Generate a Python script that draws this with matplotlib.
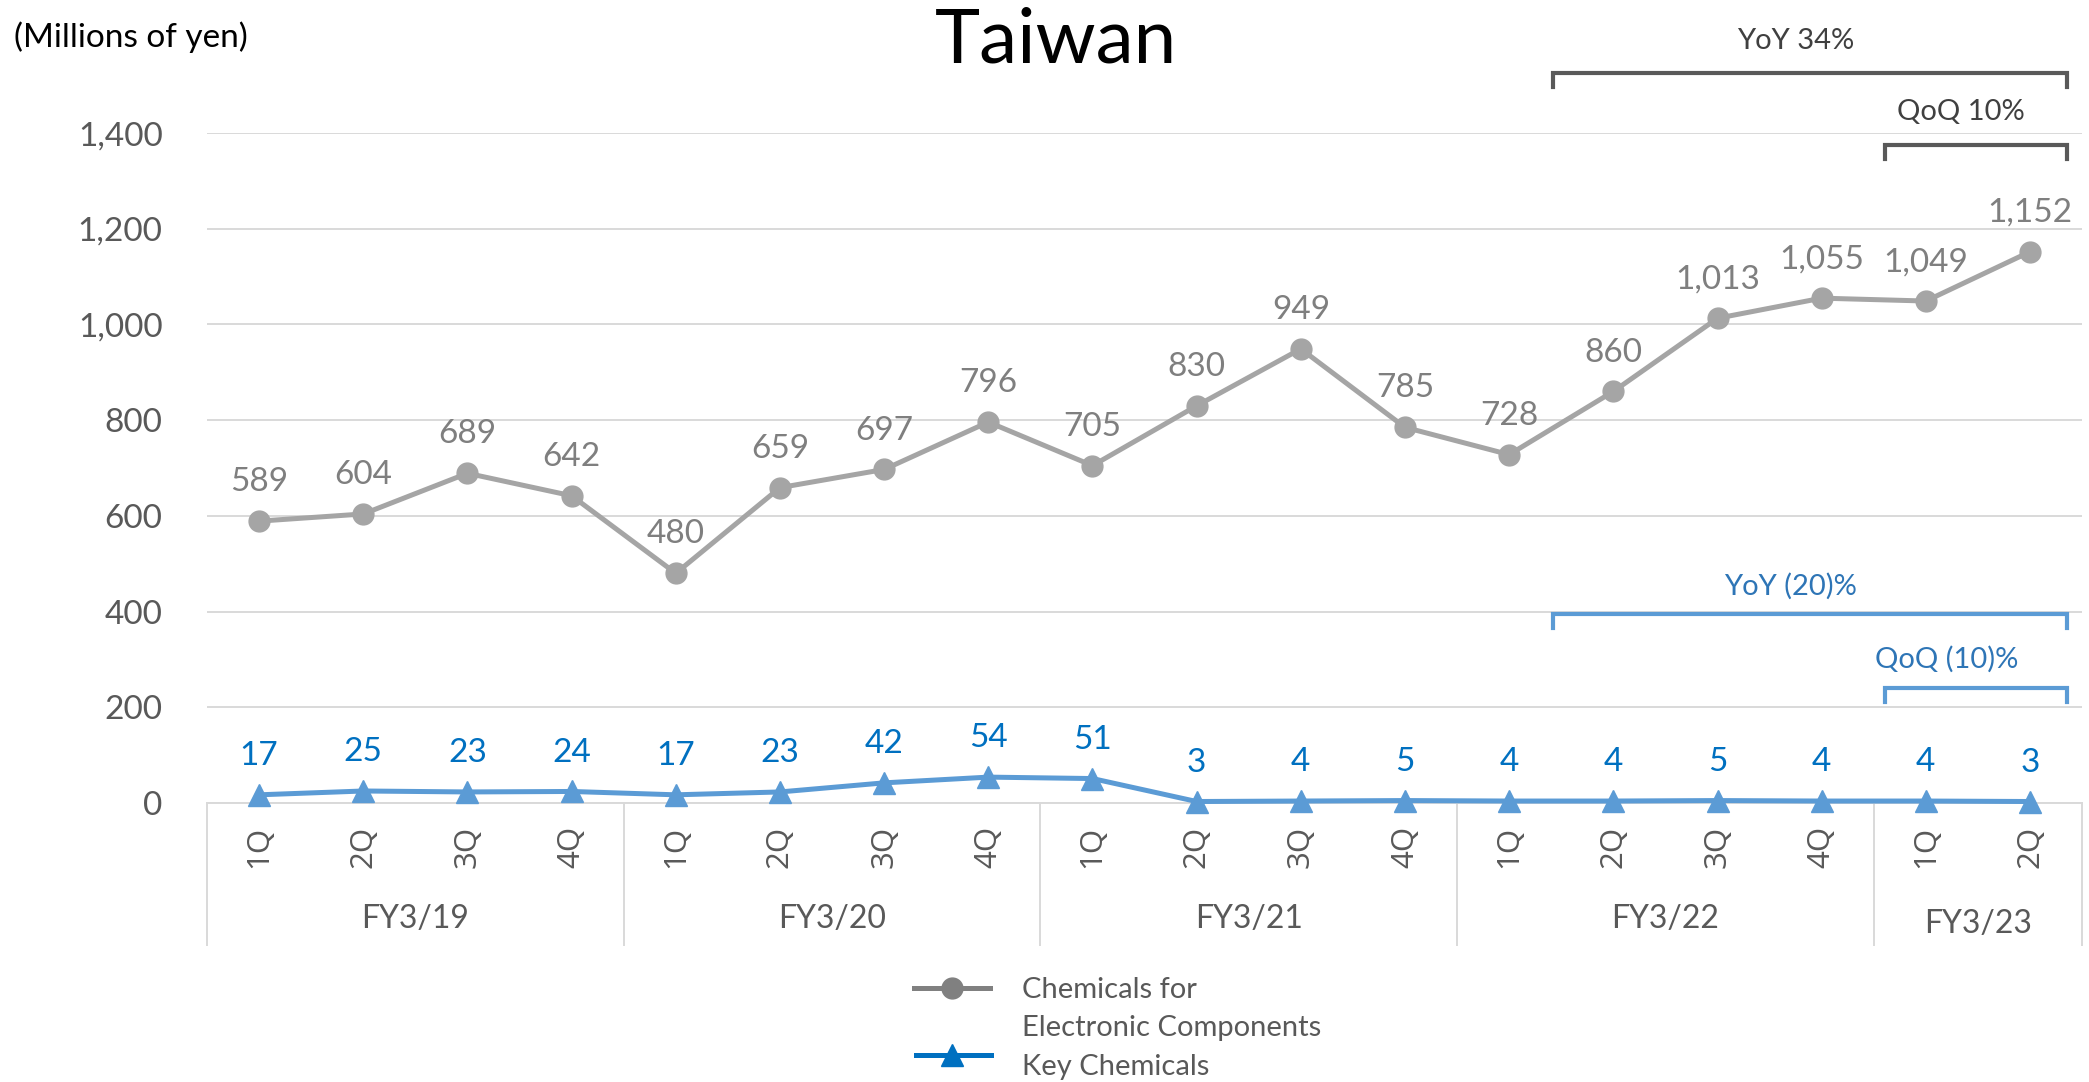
import matplotlib
matplotlib.use("Agg")
import matplotlib.pyplot as plt
from matplotlib.lines import Line2D
from matplotlib.transforms import blended_transform_factory

plt.rcParams['font.family'] = ['Lato', 'DejaVu Sans']

# ---- data ----
quarters = ["1Q", "2Q", "3Q", "4Q"] * 4 + ["1Q", "2Q"]
fiscal_years = ["FY3/19", "FY3/20", "FY3/21", "FY3/22", "FY3/23"]
fy_quarter_counts = [4, 4, 4, 4, 2]
electronic = [589, 604, 689, 642, 480, 659, 697, 796, 705, 830,
              949, 785, 728, 860, 1013, 1055, 1049, 1152]
key_chem = [17, 25, 23, 24, 17, 23, 42, 54, 51, 3,
            4, 5, 4, 4, 5, 4, 4, 3]
yticks = [0, 200, 400, 600, 800, 1000, 1200, 1400]
elec_yoy_text = "YoY 34%"
elec_qoq_text = "QoQ 10%"
key_yoy_text = "YoY (20)%"
key_qoq_text = "QoQ (10)%"
legend_labels = ["Chemicals for\nElectronic Components", "Key Chemicals"]

GREY_LINE = "#A5A5A5"
GREY_LABEL = "#7F7F7F"
BLUE_LINE = "#5B9BD5"
BLUE_LABEL = "#0070C0"
AXIS_TXT = "#595959"
GRID = "#D9D9D9"

fig = plt.figure(figsize=(20.89, 10.82), dpi=100)
ax = fig.add_axes([0.0991, 0.2579, 0.8976, 0.6191])

x = list(range(len(quarters)))
ax.plot(x, electronic, color=GREY_LINE, lw=3.6, marker='o', ms=15,
        zorder=3, clip_on=False)
ax.plot(x, key_chem, color=BLUE_LINE, lw=3.6, marker='^', ms=16,
        zorder=3, clip_on=False)

for xi, v in zip(x, electronic):
    ax.annotate(f"{v:,}", (xi, v), xytext=(0, 21.5), textcoords='offset points',
                ha='center', va='baseline', fontsize=24, color=GREY_LABEL)
for xi, v in zip(x, key_chem):
    ax.annotate(f"{v:,}", (xi, v), xytext=(0, 21.5), textcoords='offset points',
                ha='center', va='baseline', fontsize=24, color=BLUE_LABEL)

ax.set_xlim(-0.5, len(quarters) - 0.5)
ax.set_ylim(0, 1400)
ax.set_yticks(yticks)
ax.set_yticklabels([f"{t:,}" for t in yticks])
ax.tick_params(axis='y', length=0, pad=32, labelsize=24, labelcolor=AXIS_TXT)
ax.set_xticks([])
ax.yaxis.grid(True, color=GRID, lw=1.4)
ax.set_axisbelow(True)
for s in ["top", "right", "left"]:
    ax.spines[s].set_visible(False)
ax.spines["bottom"].set_color(GRID)
ax.spines["bottom"].set_linewidth(1.4)

# category axis: quarters, fiscal years and separators
tr = blended_transform_factory(ax.transData, ax.transAxes)
for xi, q in zip(x, quarters):
    ax.text(xi, -0.066, q, transform=tr, rotation=90, ha='center', va='center',
            fontsize=22.5, color=AXIS_TXT, family=['Open Sans', 'DejaVu Sans'])
start = 0
bounds = [-0.5]
for fy, n in zip(fiscal_years, fy_quarter_counts):
    mid = start + (n - 1) / 2
    ypos = -0.173 if n == 4 else -0.181
    ax.text(mid, ypos, fy, transform=tr, ha='center', va='center',
            fontsize=23, color=AXIS_TXT)
    start += n
    bounds.append(start - 0.5)
for b in bounds:
    ax.plot([b, b], [0, -0.212], transform=tr, color=GRID, lw=1.4,
            clip_on=False)


def bracket(x0, x1, y, drop, color, label, tx, ty, tcolor):
    ax.plot([x0, x0, x1, x1], [y - drop, y, y, y - drop], color=color, lw=3,
            clip_on=False, solid_joinstyle='miter')
    ax.text(tx, ty, label, ha='center', va='baseline', fontsize=21,
            color=tcolor)


bracket(12.42, 17.355, 1525, 29, "#595959", elec_yoy_text, 14.75, 1576,
        "#404040")
bracket(15.61, 17.355, 1375, 29, "#595959", elec_qoq_text, 16.34, 1427,
        "#404040")
bracket(12.42, 17.355, 395, 29, BLUE_LINE, key_yoy_text, 14.70, 435,
        "#2E75B6")
bracket(15.61, 17.355, 240, 29, BLUE_LINE, key_qoq_text, 16.20, 282,
        "#2E75B6")

fig.text(0.5056, 0.9418, "Taiwan", ha='center', va='baseline', fontsize=55,
         color='black')
fig.text(0.0067, 0.9566, "(Millions of yen)", ha='left', va='baseline',
         fontsize=24, color='black')

# legend, drawn in figure coordinates
fig.add_artist(Line2D([0.4375, 0.4557, 0.4739], [0.0869] * 3,
                      color="#808080", lw=3.6, marker='o', markevery=[1],
                      ms=15, transform=fig.transFigure))
fig.add_artist(Line2D([0.4385, 0.4557, 0.4744], [0.0250] * 3,
                      color=BLUE_LABEL, lw=3.6, marker='^', markevery=[1],
                      ms=16, transform=fig.transFigure))
first, second = legend_labels[0].split("\n")
fig.text(0.4892, 0.0776, first, ha='left', va='baseline', fontsize=21,
         color=AXIS_TXT)
fig.text(0.4892, 0.0425, second, ha='left', va='baseline', fontsize=21,
         color=AXIS_TXT)
fig.text(0.4892, 0.0065, legend_labels[1], ha='left', va='baseline',
         fontsize=21, color=AXIS_TXT)

fig.savefig("out.png", dpi=100)
